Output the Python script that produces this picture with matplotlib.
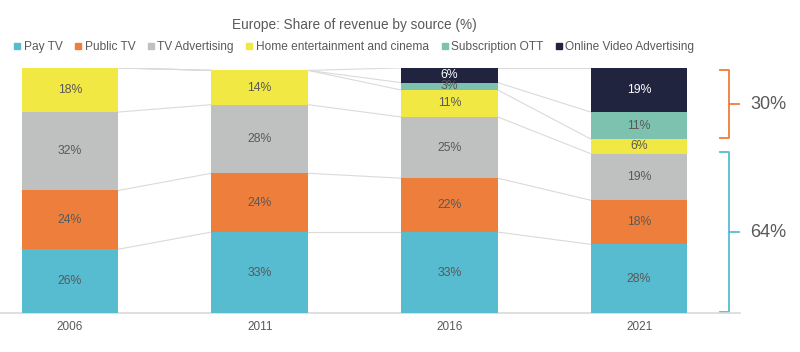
import matplotlib
matplotlib.use("Agg")
import matplotlib.pyplot as plt
import numpy as np
from matplotlib.lines import Line2D

plt.rcParams['font.family'] = ['Liberation Sans', 'DejaVu Sans']

years = ["2006", "2011", "2016", "2021"]
series = ["Pay TV", "Public TV", "TV Advertising", "Home entertainment and cinema",
          "Subscription OTT", "Online Video Advertising"]
pay_tv = [26, 33, 33, 28]
public_tv = [24, 24, 22, 18]
tv_adv = [32, 28, 25, 19]
home_ent = [18, 14, 11, 6]
sub_ott = [0, 0, 3, 11]
online_video = [0, 0, 6, 19]
colors = ["#57BCCF", "#EE7E3B", "#BFC0C0", "#F2E844", "#7CC2AE", "#20243F"]
label_colors = ["#595959"] * 5 + ["white"]
bracket_labels = ["30%", "64%"]

values = np.array([pay_tv, public_tv, tv_adv, home_ent, sub_ott, online_video], dtype=float)

fig = plt.figure(figsize=(8, 3.52), dpi=100)
ax = fig.add_axes([0.0, 0.111, 0.925, 0.696])

x = np.arange(len(years))
w = 0.51
bottoms = np.zeros(len(years))
tops_all = []
for i, (name, vals) in enumerate(zip(series, values)):
    ax.bar(x, vals, w, bottom=bottoms, color=colors[i], zorder=3, label=name)
    for j in range(len(years)):
        if vals[j] > 0:
            top = min(bottoms[j] + vals[j], 100)
            ax.text(x[j], (bottoms[j] + top) / 2, f"{int(vals[j])}%", ha="center", va="center",
                    fontsize=8.8, color=label_colors[i], zorder=4)
    bottoms = bottoms + vals
    tops_all.append(bottoms.copy())

# connector lines
for tops in tops_all:
    for j in range(len(years) - 1):
        ax.plot([x[j] + w / 2, x[j + 1] - w / 2], [min(tops[j], 100), min(tops[j + 1], 100)],
                color="#DADADA", lw=0.8, zorder=2)

ax.set_xlim(-0.369, 3.532)
ax.set_ylim(0, 100)
ax.set_yticks([])
ax.set_xticks(x)
ax.set_xticklabels(years, fontsize=8.5, color="#595959")
ax.tick_params(axis="x", length=0, pad=6)
for s in ["top", "left", "right"]:
    ax.spines[s].set_visible(False)
ax.spines["bottom"].set_color("#D9D9D9")
ax.spines["bottom"].set_linewidth(1.2)

# brackets
def bracket(y0, y1, color, label):
    xv, xl, xm = 3.474, 3.427, 3.527
    ym = (y0 + y1) / 2
    ax.plot([xl, xv, xv, xl], [y1, y1, y0, y0], color=color, lw=1.3, clip_on=False,
            solid_joinstyle="round")
    ax.plot([xv, xm], [ym, ym], color=color, lw=1.3, clip_on=False)
    ax.text(3.585, ym, label, fontsize=13, color="#595959", va="center", ha="left")

bracket(tops_all[3][3] + 0.5, 99, "#EE7E3B", bracket_labels[0])
bracket(0.5, tops_all[2][3] + 0.5, "#57BCCF", bracket_labels[1])

fig.text(0.443, 0.928, "Europe: Share of revenue by source (%)", ha="center", va="center",
         fontsize=9.8, color="#595959")

handles = [Line2D([], [], marker="s", color=c, linestyle="none", markersize=3.8) for c in colors]
fig.legend(handles, series, loc="center", bbox_to_anchor=(0.443, 0.866), ncol=6, frameon=False,
           fontsize=8.6, handlelength=0.5, handletextpad=0.3, columnspacing=1.05,
           labelcolor="#595959", borderaxespad=0, borderpad=0)

fig.savefig("out.png", dpi=100)
